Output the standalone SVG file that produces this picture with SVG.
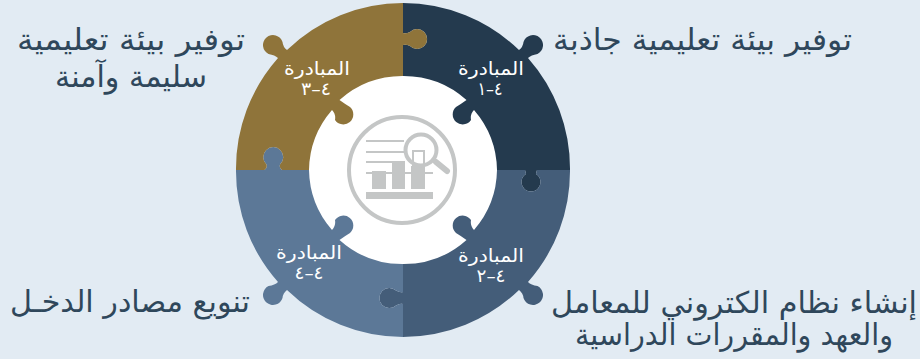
<svg xmlns="http://www.w3.org/2000/svg" width="920" height="359" viewBox="0 0 920 359">
<style>
.cap{font-family:"DejaVu Sans",sans-serif;font-size:30px;fill:#2f475b;text-anchor:middle;direction:rtl}
.lab{font-family:"DejaVu Sans",sans-serif;font-size:18px;fill:#fff;text-anchor:middle;direction:rtl}
.ic{fill:#c4c6c6}
.il{stroke:#c4c6c6;fill:none}
</style>
<rect width="920" height="359" fill="#e2ebf3"/>
<circle cx="403" cy="170" r="96" fill="#fff"/>
<g id="node-1">
<path fill="#243a4e" d="M403,3A167,167 0 0 1 519,50Q523,47 523.5,42A10,10 0 1 1 537.5,54Q531,55 528,58A167,167 0 0 1 570,170L537,170L536,174A9.5,9.5 0 1 1 526,174L525,170L497,170A94,94 0 0 0 474,110Q470,114 471,120A10,10 0 1 1 456,107Q461,104 466.5,100A94,94 0 0 0 403,76L403,45Q406,44 410,46A10,10 0 1 0 410,32Q406,34 403,33Z"/>
<text class="lab" x="491" y="75" textLength="66" lengthAdjust="spacingAndGlyphs">المبادرة</text>
<text class="lab" x="490" y="95" textLength="25" lengthAdjust="spacingAndGlyphs">٤–١</text>
</g>
<g id="node-2">
<path fill="#445d79" d="M570,170A167,167 0 0 1 528,282Q531,285 537.5,286A10,10 0 1 1 523.5,298Q523,293 519,290A167,167 0 0 1 403,337L403,304Q400,303 396,305.5A10,10 0 1 1 396,290.5Q400,293 403,292L403,264A94,94 0 0 0 466.5,240Q461,236 456,233A10,10 0 1 1 471,220Q470,226 474,230A94,94 0 0 0 497,170L525,170L526,174A9.5,9.5 0 1 0 536,174L537,170Z"/>
<text class="lab" x="491" y="262" textLength="66" lengthAdjust="spacingAndGlyphs">المبادرة</text>
<text class="lab" x="491" y="282" textLength="29" lengthAdjust="spacingAndGlyphs">٤–٢</text>
</g>
<g id="node-3">
<path fill="#5c7897" d="M403,337A167,167 0 0 1 287,290Q283,293 282.5,298A10,10 0 1 1 268.5,286Q275,285 278,282A167,167 0 0 1 236,170L264.5,170Q267.5,168 266.5,164.5A10,10 0 1 1 280,164.5Q279,168 282,170L309,170A94,94 0 0 0 332,230Q336,226 335,220A10,10 0 1 1 350,233Q345,236 339.5,240A94,94 0 0 0 403,264L403,292Q400,293 396,290.5A10,10 0 1 0 396,305.5Q400,303 403,304Z"/>
<text class="lab" x="309" y="259" textLength="66" lengthAdjust="spacingAndGlyphs">المبادرة</text>
<text class="lab" x="309" y="279" textLength="29" lengthAdjust="spacingAndGlyphs">٤–٤</text>
</g>
<g id="node-4">
<path fill="#8f743a" d="M236,170A167,167 0 0 1 278,58Q275,55 268.5,54A10,10 0 1 1 282.5,42Q283,47 287,50A167,167 0 0 1 403,3L403,33Q406,34 410,32A10,10 0 1 1 410,46Q406,44 403,45L403,76A94,94 0 0 0 339.5,100Q345,104 350,107A10,10 0 1 1 335,120Q336,114 332,110A94,94 0 0 0 309,170L282,170Q279,168 280,164.5A10,10 0 1 0 266.5,164.5Q267.5,168 264.5,170Z"/>
<text class="lab" x="317" y="75" textLength="66" lengthAdjust="spacingAndGlyphs">المبادرة</text>
<text class="lab" x="316" y="95" textLength="30" lengthAdjust="spacingAndGlyphs">٤–٣</text>
</g>
<g id="center-icon">
<circle class="il" cx="402" cy="170" r="53" stroke-width="4"/>
<path class="il" stroke-width="2" d="M366,141H404M366,152H404M366,162H404M366,173H433"/>
<rect class="ic" x="372" y="171" width="14" height="18"/>
<rect class="ic" x="392" y="161" width="13" height="28"/>
<rect class="ic" x="411" y="166" width="14" height="23"/>
<rect class="ic" x="366" y="192" width="67" height="7"/>
<circle cx="421" cy="150" r="15.5" fill="#fff" stroke="#c4c6c6" stroke-width="4"/>
<rect class="il" x="413" y="151" width="11" height="15" stroke-width="2"/>
<path class="il" stroke-width="6" stroke-linecap="round" d="M436,162L447,171"/>
</g>
<g id="label-1"><text class="cap" x="702.5" y="50" textLength="299" lengthAdjust="spacingAndGlyphs">توفير بيئة تعليمية جاذبة</text></g>
<g id="label-2">
<text class="cap" x="734" y="313" textLength="366" lengthAdjust="spacingAndGlyphs">إنشاء نظام الكتروني للمعامل</text>
<text class="cap" x="734" y="345" textLength="318" lengthAdjust="spacingAndGlyphs">والعهد والمقررات الدراسية</text>
</g>
<g id="label-3"><text class="cap" x="130" y="312" textLength="240" lengthAdjust="spacingAndGlyphs">تنويع مصادر الدخـل</text></g>
<g id="label-4">
<text class="cap" x="131" y="50" textLength="228" lengthAdjust="spacingAndGlyphs">توفير بيئة تعليمية</text>
<text class="cap" x="131" y="87" textLength="152" lengthAdjust="spacingAndGlyphs">سليمة وآمنة</text>
</g>
</svg>
